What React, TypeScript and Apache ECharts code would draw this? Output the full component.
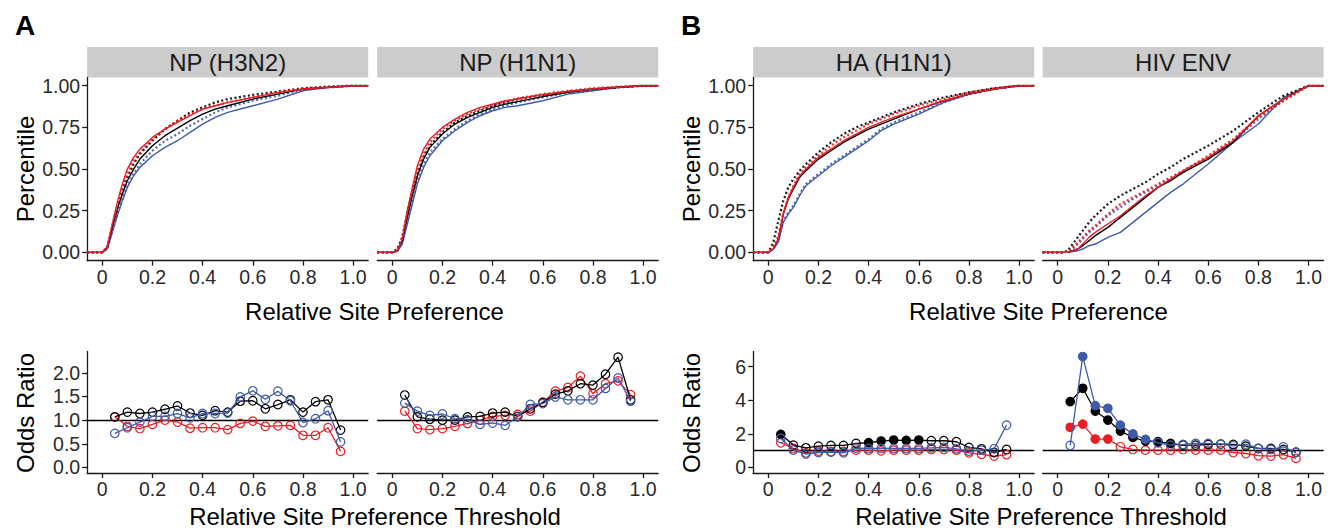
import React, { useEffect, useRef } from "react";
import * as echarts from "echarts";

// ---------- DATA ----------
const cdfX = [-0.06, 0, 0.02, 0.04, 0.06, 0.08, 0.1, 0.125, 0.15, 0.2, 0.25, 0.3, 0.35, 0.4, 0.45, 0.5, 0.6, 0.7, 0.8, 0.9, 1.0, 1.06];

// NP (H3N2)
const h3n2BlackSolid = [0, 0, 0.03, 0.15, 0.26, 0.35, 0.43, 0.5, 0.56, 0.64, 0.7, 0.745, 0.79, 0.83, 0.86, 0.88, 0.92, 0.95, 0.98, 0.99, 1, 1];
const h3n2BlackDotted = [0, 0, 0.03, 0.15, 0.27, 0.37, 0.45, 0.53, 0.59, 0.67, 0.74, 0.79, 0.84, 0.87, 0.9, 0.92, 0.945, 0.965, 0.985, 0.995, 1, 1];
const h3n2RedSolid = [0, 0, 0.03, 0.17, 0.3, 0.41, 0.5, 0.57, 0.62, 0.69, 0.74, 0.78, 0.82, 0.86, 0.88, 0.9, 0.93, 0.96, 0.98, 0.99, 1, 1];
const h3n2RedDotted = [0, 0, 0.03, 0.16, 0.28, 0.39, 0.47, 0.55, 0.6, 0.68, 0.74, 0.79, 0.83, 0.86, 0.88, 0.9, 0.93, 0.96, 0.98, 0.99, 1, 1];
const h3n2BlueSolid = [0, 0, 0.02, 0.12, 0.22, 0.31, 0.39, 0.46, 0.51, 0.58, 0.63, 0.67, 0.72, 0.77, 0.81, 0.84, 0.88, 0.92, 0.97, 0.99, 1, 1];
const h3n2BlueDotted = [0, 0, 0.02, 0.13, 0.23, 0.32, 0.4, 0.47, 0.53, 0.61, 0.67, 0.71, 0.76, 0.8, 0.84, 0.87, 0.91, 0.94, 0.98, 0.99, 1, 1];

// NP (H1N1)
const h1n1BlackSolid = [0, 0, 0.01, 0.07, 0.21, 0.34, 0.46, 0.56, 0.63, 0.71, 0.77, 0.81, 0.84, 0.87, 0.89, 0.905, 0.935, 0.96, 0.98, 0.99, 1, 1];
const h1n1BlackDotted = [0, 0, 0.02, 0.09, 0.23, 0.36, 0.47, 0.57, 0.64, 0.72, 0.78, 0.82, 0.85, 0.88, 0.9, 0.92, 0.945, 0.965, 0.98, 0.99, 1, 1];
const h1n1RedSolid = [0, 0, 0.01, 0.08, 0.25, 0.39, 0.52, 0.62, 0.68, 0.75, 0.8, 0.84, 0.87, 0.89, 0.91, 0.92, 0.945, 0.965, 0.98, 0.99, 1, 1];
const h1n1RedDotted = [0, 0, 0.01, 0.09, 0.24, 0.37, 0.49, 0.59, 0.66, 0.74, 0.79, 0.83, 0.86, 0.885, 0.905, 0.925, 0.95, 0.97, 0.985, 0.995, 1, 1];
const h1n1BlueSolid = [0, 0, 0.005, 0.05, 0.17, 0.29, 0.41, 0.51, 0.58, 0.67, 0.73, 0.78, 0.82, 0.85, 0.87, 0.88, 0.91, 0.95, 0.97, 0.99, 1, 1];
const h1n1BlueDotted = [0, 0, 0.01, 0.06, 0.19, 0.31, 0.43, 0.53, 0.6, 0.68, 0.74, 0.79, 0.83, 0.86, 0.88, 0.9, 0.93, 0.96, 0.975, 0.99, 1, 1];

// HA (H1N1)
const haBlackSolid = [0, 0, 0.02, 0.08, 0.23, 0.32, 0.38, 0.45, 0.49, 0.56, 0.61, 0.66, 0.7, 0.74, 0.77, 0.8, 0.86, 0.91, 0.95, 0.98, 1, 1];
const haBlackDotted = [0, 0, 0.06, 0.19, 0.31, 0.39, 0.44, 0.49, 0.53, 0.6, 0.66, 0.71, 0.75, 0.78, 0.81, 0.84, 0.89, 0.93, 0.96, 0.985, 1, 1];
const haRedSolid = [0, 0, 0.02, 0.08, 0.23, 0.33, 0.39, 0.46, 0.5, 0.57, 0.62, 0.67, 0.71, 0.75, 0.78, 0.81, 0.86, 0.91, 0.95, 0.98, 1, 1];
const haRedDotted = [0, 0, 0.03, 0.1, 0.24, 0.33, 0.4, 0.47, 0.51, 0.58, 0.64, 0.69, 0.73, 0.77, 0.8, 0.83, 0.88, 0.92, 0.96, 0.985, 1, 1];
const haBlueSolid = [0, 0, 0.02, 0.06, 0.18, 0.23, 0.27, 0.34, 0.4, 0.46, 0.52, 0.57, 0.62, 0.67, 0.73, 0.77, 0.83, 0.9, 0.95, 0.98, 1, 1];
const haBlueDotted = [0, 0, 0.02, 0.07, 0.19, 0.24, 0.28, 0.35, 0.41, 0.47, 0.53, 0.58, 0.63, 0.68, 0.74, 0.78, 0.84, 0.9, 0.95, 0.98, 1, 1];

// HIV ENV
const envBlackSolid = [0, 0, 0, 0, 0.01, 0.02, 0.04, 0.07, 0.1, 0.15, 0.21, 0.27, 0.33, 0.39, 0.43, 0.48, 0.56, 0.66, 0.82, 0.92, 1, 1];
const envBlackDotted = [0, 0, 0, 0.01, 0.05, 0.09, 0.13, 0.18, 0.22, 0.29, 0.34, 0.38, 0.42, 0.47, 0.51, 0.56, 0.64, 0.73, 0.84, 0.94, 1, 1];
const envRedSolid = [0, 0, 0, 0, 0.01, 0.02, 0.05, 0.09, 0.12, 0.17, 0.22, 0.28, 0.34, 0.39, 0.44, 0.49, 0.57, 0.67, 0.82, 0.92, 1, 1];
const envRedDotted = [0, 0, 0, 0.005, 0.03, 0.06, 0.09, 0.13, 0.16, 0.23, 0.29, 0.33, 0.37, 0.41, 0.45, 0.49, 0.58, 0.68, 0.81, 0.91, 1, 1];
const envBlueSolid = [0, 0, 0, 0, 0.005, 0.01, 0.02, 0.04, 0.05, 0.09, 0.12, 0.18, 0.24, 0.3, 0.36, 0.41, 0.53, 0.66, 0.77, 0.93, 1, 1];
const envBlueDotted = [0, 0, 0, 0.005, 0.02, 0.05, 0.08, 0.12, 0.15, 0.22, 0.27, 0.32, 0.36, 0.4, 0.44, 0.48, 0.57, 0.67, 0.8, 0.91, 1, 1];

// Odds ratio thresholds
const thresholds = [0.05, 0.1, 0.15, 0.2, 0.25, 0.3, 0.35, 0.4, 0.45, 0.5, 0.55, 0.6, 0.65, 0.7, 0.75, 0.8, 0.85, 0.9, 0.95];

const orH3n2Black = [1.07, 1.17, 1.14, 1.17, 1.23, 1.3, 1.15, 1.1, 1.2, 1.17, 1.4, 1.41, 1.24, 1.33, 1.43, 1.17, 1.39, 1.43, 0.79];
const orH3n2Blue = [0.72, 0.84, 0.96, 1.08, 1.08, 1.14, 1.05, 1.14, 1.14, 1.15, 1.49, 1.62, 1.44, 1.61, 1.41, 0.95, 1.03, 1.2, 0.54];
const orH3n2Red = [1.07, 0.87, 0.82, 0.91, 1.0, 0.96, 0.83, 0.84, 0.84, 0.8, 0.93, 0.98, 0.87, 0.88, 0.89, 0.68, 0.68, 0.84, 0.34];

const orH1n1Black = [1.53, 1.07, 1.02, 1.0, 1.0, 1.07, 1.08, 1.15, 1.17, 1.08, 1.24, 1.37, 1.55, 1.62, 1.77, 1.74, 1.97, 2.33, 1.43];
const orH1n1Blue = [1.36, 1.19, 1.1, 1.13, 1.03, 1.01, 0.91, 0.94, 0.89, 1.07, 1.33, 1.35, 1.49, 1.43, 1.43, 1.43, 1.67, 1.89, 1.4];
const orH1n1Red = [1.19, 0.82, 0.8, 0.82, 0.87, 0.93, 1.0, 1.08, 1.1, 1.12, 1.19, 1.38, 1.61, 1.69, 1.93, 1.56, 1.77, 1.83, 1.54];

const orHaBlack = [1.97, 1.33, 1.17, 1.27, 1.31, 1.31, 1.43, 1.47, 1.57, 1.63, 1.61, 1.63, 1.59, 1.59, 1.53, 1.19, 1.11, 0.89, 1.07];
const orHaBlue = [1.73, 1.03, 0.8, 0.89, 0.91, 0.87, 1.15, 1.13, 1.13, 1.13, 1.13, 1.13, 1.17, 1.19, 1.11, 0.97, 1.03, 1.11, 2.52];
const orHaRed = [1.47, 1.13, 0.87, 0.97, 0.95, 0.95, 1.03, 1.03, 0.99, 1.03, 1.03, 1.03, 1.07, 1.07, 1.03, 0.87, 0.78, 0.68, 0.76];
const sigHaBlack = [1, 0, 0, 0, 0, 0, 0, 1, 1, 1, 1, 1, 0, 0, 0, 0, 0, 0, 0];

const orEnvBlack = [3.92, 4.71, 3.36, 2.82, 2.17, 1.79, 1.57, 1.53, 1.43, 1.33, 1.33, 1.37, 1.39, 1.37, 1.27, 1.13, 1.13, 1.07, 0.91];
const orEnvBlue = [1.31, 6.6, 3.68, 3.52, 2.52, 1.99, 1.67, 1.47, 1.33, 1.37, 1.43, 1.43, 1.39, 1.29, 1.39, 1.13, 1.07, 1.23, 0.89];
const orEnvRed = [2.39, 2.58, 1.69, 1.69, 1.23, 1.07, 1.03, 1.03, 1.03, 1.07, 1.03, 1.03, 1.03, 0.89, 0.83, 0.7, 0.68, 0.76, 0.54];
const sigEnvBlack = [1, 1, 1, 1, 1, 1, 1, 1, 1, 0, 0, 0, 0, 0, 0, 0, 0, 0, 0];
const sigEnvBlue = [0, 1, 1, 1, 1, 1, 1, 0, 0, 0, 0, 0, 0, 0, 0, 0, 0, 0, 0];
const sigEnvRed = [1, 1, 1, 1, 0, 0, 0, 0, 0, 0, 0, 0, 0, 0, 0, 0, 0, 0, 0];
const noSig = thresholds.map(() => 0);

const panelNames = ["NP (H3N2)", "NP (H1N1)", "HA (H1N1)", "HIV ENV"];
const xTicks = [0, 0.2, 0.4, 0.6, 0.8, 1.0];
const cdfTicks = [0, 0.25, 0.5, 0.75, 1.0];
const orTicksA = [0, 0.5, 1.0, 1.5, 2.0];
const orTicksB = [0, 2, 4, 6];

// ---------- STYLE ----------
const RED = "#ec1c24";
const BLUE = "#3f5ba8";
const BLACK = "#000000";
const FONT = "'Liberation Sans', Arial, Helvetica, sans-serif";

const panelLeft = [87.2, 377.2, 753.2, 1042.6];
const panelWidth = 281;
const topTop = 77.4;
const topHeight = 183.3;
const botTop = 351.5;
const botHeight = 121.5;

function App() {
  const ref = useRef<HTMLDivElement>(null);
  useEffect(() => {
    document.body.style.margin = "0";
    if (!ref.current) return;
    const chart = echarts.init(ref.current, null, { renderer: "svg" });

    const grids: any[] = [];
    const xAxes: any[] = [];
    const yAxes: any[] = [];
    const series: any[] = [];

    const axisLineStyle = { color: "#1a1a1a", width: 1.3 };
    const makeX = (gi: number) => ({
      type: "value",
      gridIndex: gi,
      min: -0.06,
      max: 1.06,
      axisLine: { show: true, onZero: false, lineStyle: axisLineStyle },
      axisTick: { show: true, length: 5, inside: false, customValues: xTicks, lineStyle: axisLineStyle },
      axisLabel: {
        show: true,
        customValues: xTicks,
        margin: 6,
        fontSize: 19.5,
        fontFamily: FONT,
        color: "#2a2a2a",
        formatter: (v: number) => (v === 0 ? "0" : v.toFixed(1)),
      },
      splitLine: { show: false },
    });
    const makeY = (gi: number, min: number, max: number, ticks: number[], showAxis: boolean, dec: number) => ({
      type: "value",
      gridIndex: gi,
      min,
      max,
      axisLine: { show: showAxis, onZero: false, lineStyle: axisLineStyle },
      axisTick: { show: showAxis, length: 5, customValues: ticks, lineStyle: axisLineStyle },
      axisLabel: {
        show: showAxis,
        customValues: ticks,
        margin: 7,
        fontSize: 19.5,
        fontFamily: FONT,
        color: "#2a2a2a",
        formatter: (v: number) => v.toFixed(dec),
      },
      splitLine: { show: false },
    });

    // top panels
    const cdfSets = [
      [h3n2BlueDotted, h3n2BlueSolid, h3n2BlackDotted, h3n2BlackSolid, h3n2RedDotted, h3n2RedSolid],
      [h1n1BlueDotted, h1n1BlueSolid, h1n1BlackDotted, h1n1BlackSolid, h1n1RedDotted, h1n1RedSolid],
      [haBlueDotted, haBlueSolid, haBlackDotted, haBlackSolid, haRedDotted, haRedSolid],
      [envBlueDotted, envBlueSolid, envBlackDotted, envBlackSolid, envRedDotted, envRedSolid],
    ];
    const cdfColors = [BLUE, BLUE, BLACK, BLACK, RED, RED];
    const cdfDotted = [true, false, true, false, true, false];

    for (let p = 0; p < 4; p++) {
      const gi = p;
      grids.push({ left: panelLeft[p], top: topTop, width: panelWidth, height: topHeight, containLabel: false });
      xAxes.push(makeX(gi));
      yAxes.push(makeY(gi, -0.05, 1.05, cdfTicks, p % 2 === 0, 2));
      cdfSets[p].forEach((arr, k) => {
        series.push({
          type: "line",
          xAxisIndex: gi,
          yAxisIndex: gi,
          data: cdfX.map((x, i) => [x, arr[i]]),
          symbol: "none",
          showSymbol: false,
          silent: true,
          lineStyle: {
            color: cdfColors[k],
            width: cdfDotted[k] ? 2.2 : 1.4,
            type: cdfDotted[k] ? [2, 2.5] : "solid",
            opacity: cdfDotted[k] ? 0.9 : 1,
          },
          z: 2 + k,
        });
      });
    }

    // bottom panels
    const orSets = [
      [[orH3n2Red, noSig, RED], [orH3n2Black, noSig, BLACK], [orH3n2Blue, noSig, BLUE]],
      [[orH1n1Red, noSig, RED], [orH1n1Black, noSig, BLACK], [orH1n1Blue, noSig, BLUE]],
      [[orHaRed, noSig, RED], [orHaBlack, sigHaBlack, BLACK], [orHaBlue, noSig, BLUE]],
      [[orEnvRed, sigEnvRed, RED], [orEnvBlack, sigEnvBlack, BLACK], [orEnvBlue, sigEnvBlue, BLUE]],
    ];
    for (let p = 0; p < 4; p++) {
      const gi = 4 + p;
      grids.push({ left: panelLeft[p], top: botTop, width: panelWidth, height: botHeight, containLabel: false });
      xAxes.push(makeX(gi));
      if (p < 2) yAxes.push(makeY(gi, -0.1165, 2.45, orTicksA, p === 0, 1));
      else yAxes.push(makeY(gi, -0.33, 6.9, orTicksB, p === 2, 0));
      orSets[p].forEach((s: any, k: number) => {
        const vals = s[0] as number[];
        const sig = s[1] as number[];
        const color = s[2] as string;
        const ser: any = {
          type: "line",
          xAxisIndex: gi,
          yAxisIndex: gi,
          symbol: "circle",
          symbolSize: 8.5,
          showSymbol: true,
          silent: true,
          lineStyle: { color, width: 1.3 },
          data: thresholds.map((x, i) => ({
            value: [x, vals[i]],
            itemStyle: {
              color: sig[i] ? color : "rgba(255,255,255,0)",
              borderColor: color,
              borderWidth: 1.2,
            },
          })),
          z: 5 + k,
        };
        if (k === 0) {
          ser.markLine = {
            silent: true,
            symbol: ["none", "none"],
            label: { show: false },
            lineStyle: { color: "#000", width: 1.3, type: "solid" },
            data: [{ yAxis: 1 }],
            z: 1,
          };
        }
        series.push(ser);
      });
    }

    const graphic: any[] = [];
    // strips
    for (let p = 0; p < 4; p++) {
      graphic.push({
        type: "rect",
        shape: { x: panelLeft[p], y: 47, width: panelWidth, height: 30.5 },
        style: { fill: "#cccccc" },
        silent: true,
      });
      graphic.push({
        type: "text",
        x: panelLeft[p] + panelWidth / 2,
        y: 62.5,
        style: {
          text: panelNames[p],
          font: `24px ${FONT}`,
          fill: "#1a1a1a",
          align: "center",
          verticalAlign: "middle",
        },
        silent: true,
      });
    }
    const txt = (text: string, x: number, y: number, size: number, rotate = 0, weight = "normal") => ({
      type: "text",
      x,
      y,
      rotation: rotate,
      style: {
        text,
        font: `${weight} ${size}px ${FONT}`,
        fill: "#000",
        align: "center",
        verticalAlign: "middle",
      },
      silent: true,
    });
    graphic.push(txt("A", 25, 25, 28, 0, "bold"));
    graphic.push(txt("B", 691, 25, 28, 0, "bold"));
    graphic.push(txt("Percentile", 25, 169, 24, Math.PI / 2));
    graphic.push(txt("Percentile", 691, 169, 24, Math.PI / 2));
    graphic.push(txt("Odds Ratio", 25, 413, 24, Math.PI / 2));
    graphic.push(txt("Odds Ratio", 691, 413, 24, Math.PI / 2));
    graphic.push(txt("Relative Site Preference", 374.5, 311, 24));
    graphic.push(txt("Relative Site Preference", 1038.5, 311, 24));
    graphic.push(txt("Relative Site Preference Threshold", 375, 516, 24));
    graphic.push(txt("Relative Site Preference Threshold", 1041, 516, 24));

    chart.setOption({
      animation: false,
      backgroundColor: "#ffffff",
      textStyle: { fontFamily: FONT },
      grid: grids,
      xAxis: xAxes,
      yAxis: yAxes,
      series,
      graphic,
    });
    return () => chart.dispose();
  }, []);
  return <div ref={ref} style={{ width: 1335, height: 531 }} />;
}

export default App;
